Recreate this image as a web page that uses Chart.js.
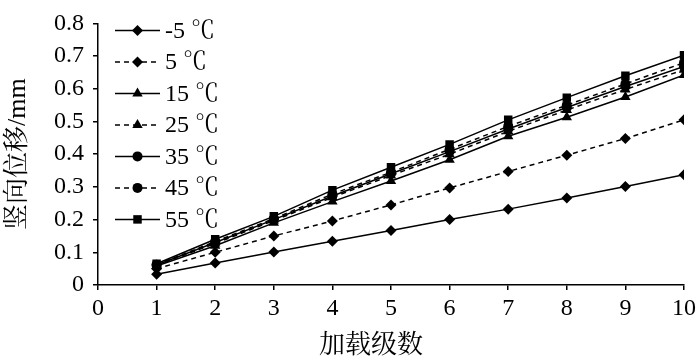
<!DOCTYPE html>
<html lang="zh">
<head>
    <meta charset="UTF-8">
    <title>竖向位移</title>
    <style>
        html, body { margin: 0; padding: 0; background: #fff; }
        #wrap { width: 700px; height: 360px; }
    </style>
</head>
<body>
    <div id="wrap"><canvas id="dispChart" width="700" height="360"></canvas></div>

    <script src="https://cdn.jsdelivr.net/npm/chart.js"></script>
    <script>
        // 加载级数
        const steps = [1, 2, 3, 4, 5, 6, 7, 8, 9, 10];
        const xTicks = [0, 1, 2, 3, 4, 5, 6, 7, 8, 9, 10];
        const yTicks = [0, 0.1, 0.2, 0.3, 0.4, 0.5, 0.6, 0.7, 0.8];

        // 竖向位移 (mm)
        const dispM5  = [0.033, 0.067, 0.101, 0.134, 0.167, 0.200, 0.232, 0.266, 0.301, 0.337];
        const disp5   = [0.050, 0.100, 0.150, 0.196, 0.245, 0.297, 0.347, 0.397, 0.448, 0.505];
        const disp15  = [0.058, 0.120, 0.190, 0.255, 0.318, 0.383, 0.455, 0.513, 0.575, 0.642];
        const disp25  = [0.060, 0.127, 0.197, 0.268, 0.335, 0.400, 0.470, 0.535, 0.598, 0.658];
        const disp35  = [0.061, 0.130, 0.200, 0.272, 0.340, 0.408, 0.477, 0.543, 0.607, 0.668];
        const disp45  = [0.062, 0.133, 0.203, 0.278, 0.345, 0.415, 0.485, 0.550, 0.615, 0.680];
        const disp55  = [0.065, 0.140, 0.210, 0.290, 0.360, 0.430, 0.505, 0.573, 0.640, 0.703];

        const labels = ['-5 ℃', '5 ℃', '15 ℃', '25 ℃', '35 ℃', '45 ℃', '55 ℃'];
        const series = [dispM5, disp5, disp15, disp25, disp35, disp45, disp55];
        const marks  = ['rectRot', 'rectRot', 'triangle', 'triangle', 'circle', 'circle', 'rect'];
        const sizes  = [5.5, 5.5, 6, 6, 5, 5, 6];
        const dashed = [false, true, false, true, false, true, false];

        const xTitle = '加载级数';
        const yTitle = '竖向位移/mm';

        const serif = "'Liberation Serif', 'Noto Serif CJK SC'";

        const datasets = series.map((vals, i) => ({
            label: labels[i],
            data: vals.map((v, k) => ({ x: steps[k], y: v })),
            borderColor: '#000',
            backgroundColor: '#000',
            borderWidth: 1.5,
            borderDash: dashed[i] ? [5, 4] : [],
            pointStyle: marks[i],
            pointRadius: sizes[i],
            pointBorderWidth: 0,
            fill: false,
            tension: 0
        }));

        // 图例和坐标轴标题自己画
        const decoPlugin = {
            id: 'deco',
            afterDraw(chart) {
                const ctx = chart.ctx;
                const area = chart.chartArea;
                const x0 = area.left + 17;
                const x1 = x0 + 45;
                const xm = (x0 + x1) / 2;
                ctx.save();
                datasets.forEach((ds, i) => {
                    const y = area.top + 7 + i * 31.5;
                    ctx.strokeStyle = '#000';
                    ctx.lineWidth = 1.5;
                    ctx.setLineDash(dashed[i] ? [5, 4] : []);
                    ctx.beginPath();
                    ctx.moveTo(x0, y);
                    ctx.lineTo(x1, y);
                    ctx.stroke();
                    ctx.setLineDash([]);
                    Chart.helpers.drawPoint(ctx, {
                        pointStyle: marks[i],
                        radius: sizes[i],
                        borderWidth: 0
                    }, xm, y);
                    ctx.fillStyle = '#000';
                    ctx.font = '24px ' + serif;
                    ctx.textAlign = 'left';
                    ctx.textBaseline = 'middle';
                    ctx.fillText(labels[i], x1 + 5, y + 1);
                });

                ctx.fillStyle = '#000';
                ctx.font = '26px ' + serif;
                ctx.textAlign = 'center';
                ctx.textBaseline = 'middle';
                ctx.fillText(xTitle, (area.left + area.right) / 2 - 20, 346);

                ctx.translate(18, (area.top + area.bottom) / 2);
                ctx.rotate(-Math.PI / 2);
                ctx.fillText(yTitle, 0, 0);
                ctx.restore();
            }
        };

        new Chart(document.getElementById('dispChart').getContext('2d'), {
            type: 'line',
            data: { datasets: datasets },
            plugins: [decoPlugin],
            options: {
                responsive: false,
                animation: false,
                layout: { padding: { top: 15, right: 14, left: 0, bottom: 0 } },
                plugins: {
                    legend: { display: false },
                    tooltip: { enabled: false }
                },
                scales: {
                    x: {
                        type: 'linear',
                        min: 0,
                        max: 10,
                        afterBuildTicks: s => { s.ticks = xTicks.map(v => ({ value: v })); },
                        afterFit: s => { s.height = 75; },
                        border: { color: '#000', width: 1.5 },
                        grid: { drawOnChartArea: false, color: '#000', tickLength: 5, lineWidth: 1.5 },
                        ticks: { color: '#000', font: { family: serif, size: 24 }, padding: 4 }
                    },
                    y: {
                        min: 0,
                        max: 0.8,
                        afterBuildTicks: s => { s.ticks = yTicks.map(v => ({ value: v })); },
                        afterFit: s => { s.width = 98; },
                        border: { color: '#000', width: 1.5 },
                        grid: { drawOnChartArea: false, color: '#000', tickLength: 5, lineWidth: 1.5 },
                        ticks: {
                            color: '#000',
                            font: { family: serif, size: 24 },
                            padding: 9,
                            callback: v => (v === 0 ? '0' : v.toFixed(1))
                        }
                    }
                }
            }
        });
    </script>
</body>
</html>
